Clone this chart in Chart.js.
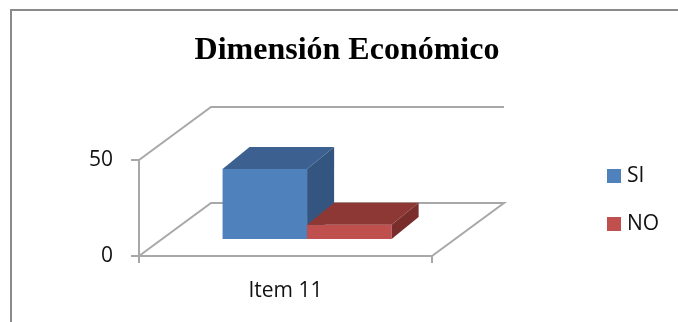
<!DOCTYPE html>
<html>
<head>
<meta charset="utf-8">
<script src="https://cdn.jsdelivr.net/npm/chart.js@4"></script>
<style>
  body { margin: 0; background: #fff; }
  #wrap { position: relative; width: 678px; height: 322px; }
  #grafico { display: block; }
  .leyenda { position: absolute; left: 607px; font: 21px "Open Sans", sans-serif; color: #111; line-height: 21px; }
  .leyenda span { display: inline-block; width: 14px; height: 14px; margin-right: 6px; vertical-align: -1px; }
</style>
</head>
<body>
<div id="wrap">
  <canvas id="grafico" width="678" height="322"></canvas>
  <div class="leyenda" style="top:164px"><span style="background:#4F81BD"></span>SI</div>
  <div class="leyenda" style="top:212px"><span style="background:#C0504D"></span>NO</div>
</div>
<script>
// datos del gráfico
const categorias = ['Item 11'];
const series = ['SI', 'NO'];
const valoresSI = [37];
const valoresNO = [8];
const ticksY = [0, 50];

// profundidad del piso 3D y posición de las barras dentro de ella
const PISO = { dx: 72, dy: -53 };
const FRENTE = 0.3;
const FONDO_BARRA = { dx: 27, dy: -22 };

const colores = [
    { frente: '#4F81BD', arriba: '#3C6190', lado: '#33557F' },
    { frente: '#C0504D', arriba: '#8E3836', lado: '#792E2C' }
];

function linea(ctx, pts) {
    ctx.beginPath();
    ctx.moveTo(pts[0][0], pts[0][1]);
    for (let i = 1; i < pts.length; i++) ctx.lineTo(pts[i][0], pts[i][1]);
    ctx.stroke();
}

function cara(ctx, pts, color) {
    ctx.beginPath();
    ctx.moveTo(pts[0][0], pts[0][1]);
    for (let i = 1; i < pts.length; i++) ctx.lineTo(pts[i][0], pts[i][1]);
    ctx.closePath();
    ctx.fillStyle = color;
    ctx.fill();
}

// marco, paredes y barras en 3D
const caja3d = {
    id: 'caja3d',
    beforeDraw(chart) {
        const ctx = chart.ctx;
        ctx.save();
        ctx.strokeStyle = '#8a8a8a';
        ctx.lineWidth = 2;
        linea(ctx, [[11, 322], [11, 10], [678, 10]]);
        ctx.restore();
    },
    beforeDatasetsDraw(chart) {
        const ctx = chart.ctx;
        const xs = chart.scales.x, ys = chart.scales.y;
        const l = xs.left, r = xs.right;
        const arriba = ys.getPixelForValue(ys.max);
        const abajo = ys.getPixelForValue(ys.min);

        ctx.save();
        ctx.strokeStyle = '#a8a8a8';
        ctx.lineWidth = 2;
        linea(ctx, [[l, arriba], [l + PISO.dx, arriba + PISO.dy], [r + PISO.dx, arriba + PISO.dy]]);
        linea(ctx, [[l, abajo], [l + PISO.dx, abajo + PISO.dy], [r + PISO.dx, abajo + PISO.dy], [r, abajo]]);

        const ox = PISO.dx * FRENTE, oy = PISO.dy * FRENTE;
        const dx = FONDO_BARRA.dx, dy = FONDO_BARRA.dy;
        chart.data.datasets.forEach((ds, i) => {
            const c = colores[i];
            chart.getDatasetMeta(i).data.forEach(barra => {
                const p = barra.getProps(['x', 'y', 'base', 'width'], true);
                const x0 = p.x - p.width / 2 + ox, x1 = p.x + p.width / 2 + ox;
                const t = p.y + oy, b = p.base + oy;
                cara(ctx, [[x0, t], [x1, t], [x1, b], [x0, b]], c.frente);
                cara(ctx, [[x0, t], [x0 + dx, t + dy], [x1 + dx, t + dy], [x1, t]], c.arriba);
                cara(ctx, [[x1, t], [x1 + dx, t + dy], [x1 + dx, b + dy], [x1, b]], c.lado);
            });
        });
        ctx.restore();
        return false;
    }
};

new Chart(document.getElementById('grafico'), {
    type: 'bar',
    data: {
        labels: categorias,
        datasets: [
            { label: series[0], data: valoresSI, backgroundColor: colores[0].frente },
            { label: series[1], data: valoresNO, backgroundColor: colores[1].frente }
        ]
    },
    options: {
        responsive: false,
        animation: false,
        devicePixelRatio: 1,
        categoryPercentage: 0.577,
        barPercentage: 1.0,
        layout: { padding: { left: 16, right: 0, top: 0, bottom: 0 } },
        plugins: {
            legend: { display: false },
            tooltip: { enabled: false },
            title: {
                display: true,
                text: 'Dimensión Económico',
                color: '#000',
                font: { family: 'Liberation Serif', size: 32, weight: 'bold' },
                padding: { top: 32, bottom: 89.6 }
            }
        },
        scales: {
            x: {
                afterFit(scale) { scale.height = 66; },
                grid: { drawOnChartArea: false, drawTicks: true, tickLength: 7, color: '#a8a8a8', lineWidth: 2 },
                border: { display: true, color: '#a8a8a8', width: 2 },
                ticks: { color: '#111', padding: 15, font: { family: 'Open Sans', size: 21 } }
            },
            y: {
                min: 0,
                max: 50,
                afterFit(scale) { scale.width = 123; },
                afterBuildTicks(scale) { scale.ticks = ticksY.map(v => ({ value: v })); },
                grid: { drawOnChartArea: false, drawTicks: true, tickLength: 8, color: '#a8a8a8', lineWidth: 2 },
                border: { display: true, color: '#a8a8a8', width: 2 },
                ticks: { color: '#111', padding: 18, font: { family: 'Open Sans', size: 21 } }
            },
            // espacio vacío a la derecha, donde va la leyenda
            derecha: {
                type: 'linear',
                position: 'right',
                afterFit(scale) { scale.width = 246; },
                grid: { display: false },
                border: { display: false },
                ticks: { display: false }
            }
        }
    },
    plugins: [caja3d]
});
</script>
</body>
</html>
